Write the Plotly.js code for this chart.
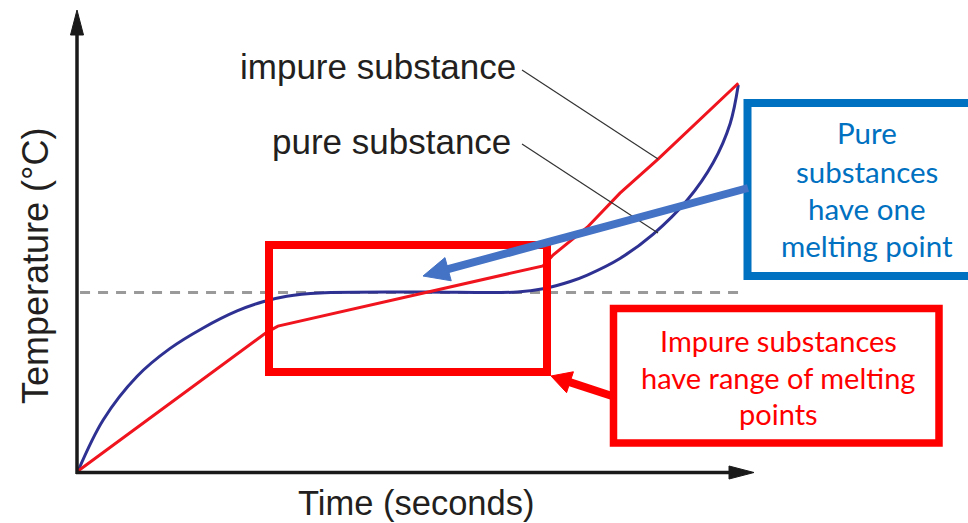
<!DOCTYPE html>
<html><head><meta charset="utf-8">
<script src="https://cdn.plot.ly/plotly-3.0.1.min.js"></script>
<style>html,body{margin:0;padding:0;background:#fff}#chart{width:968px;height:523px}</style>
</head><body><div id="chart"></div>
<script>
// ---- data (time in arbitrary seconds, temperature in arbitrary °C) ----
const pureTime   = [0, 3.7, 8.7, 13.5, 18.4, 23.4, 27.2, 30.7, 35.6, 50.3, 64.6, 68.4, 72.4, 74.9, 79.7, 84.6, 89.6, 93.4, 95.9, 97.1];
const pureTemp   = [0, 11.1, 20.6, 26.6, 31.1, 34.8, 36.8, 38.0, 38.7, 38.9, 38.9, 39.6, 41.2, 42.6, 46.2, 51.5, 58.9, 67.0, 75.5, 83.9];
const impureTime = [0, 27.8, 29.4, 51.3, 68.4, 69.9, 74.9, 79.7, 85.3, 97.1];
const impureTemp = [0, 30.2, 31.5, 38.9, 44.6, 47.0, 53.0, 60.4, 67.8, 84.3];
const meltingPoint = 38.8;
const seriesLabels = ['impure substance', 'pure substance'];
const xTitle = 'Time (seconds)';
const yTitle = 'Temperature (°C)';
const pureNote = ['Pure', 'substances', 'have one', 'melting point'];
const impureNote = ['Impure substances', 'have range of melting', 'points'];

// ---- geometry ----
const W = 968, H = 523;
const X0 = 78, Y0 = 471, SX = 6.8, SY = 4.6;   // origin pixel & pixels per unit
const px = v => v / W, py = v => 1 - v / H;

function arrow(x0, y0, x1, y1, color, w, hl, hw) {
  const dx = x1 - x0, dy = y1 - y0, L = Math.hypot(dx, dy), ux = dx / L, uy = dy / L;
  const bx = x1 - ux * hl, by = y1 - uy * hl, nx = -uy, ny = ux;
  return [
    {type: 'line', xref: 'paper', yref: 'paper', x0: px(x0), y0: py(y0), x1: px(bx + ux * 2), y1: py(by + uy * 2),
     line: {color: color, width: w}},
    {type: 'path', xref: 'paper', yref: 'paper',
     path: `M${px(x1)},${py(y1)} L${px(bx + nx * hw / 2)},${py(by + ny * hw / 2)} L${px(bx - nx * hw / 2)},${py(by - ny * hw / 2)} Z`,
     fillcolor: color, line: {color: color, width: 1}}
  ];
}

const traces = [
  {x: pureTime, y: pureTemp, type: 'scatter', mode: 'lines', name: seriesLabels[1],
   line: {color: '#2e3192', width: 3, shape: 'spline', smoothing: 1}, hoverinfo: 'skip'},
  {x: impureTime, y: impureTemp, type: 'scatter', mode: 'lines', name: seriesLabels[0],
   line: {color: '#f0141e', width: 3, shape: 'linear'}, hoverinfo: 'skip'}
];

const shapes = [
  {type: 'line', xref: 'x', yref: 'y', x0: 0.3, x1: 98.1, y0: meltingPoint, y1: meltingPoint, layer: 'below',
   line: {color: '#9a9a9a', width: 3, dash: '10px,8px'}},
  // leader lines
  {type: 'line', xref: 'paper', yref: 'paper', x0: px(522), y0: py(70), x1: px(658), y1: py(159), line: {color: '#333', width: 1.2}},
  {type: 'line', xref: 'paper', yref: 'paper', x0: px(522), y0: py(144), x1: px(658), y1: py(233), line: {color: '#333', width: 1.2}},
  // red highlight rectangle
  {type: 'rect', xref: 'paper', yref: 'paper', x0: px(269), x1: px(547), y0: py(372), y1: py(245), line: {color: '#ff0000', width: 8}},
  // red note box
  {type: 'rect', xref: 'paper', yref: 'paper', x0: px(613.5), x1: px(939), y0: py(443), y1: py(308.5), line: {color: '#ff0000', width: 7.5}},
  // blue note box
  {type: 'rect', xref: 'paper', yref: 'paper', x0: px(747.5), x1: px(985), y0: py(276), y1: py(103), line: {color: '#0070c0', width: 8}},
  ...arrow(77, 474, 77, 10, '#1a1a1a', 3.5, 25, 13),
  ...arrow(76, 472.5, 754, 472.5, '#1a1a1a', 3.5, 25, 13),
  ...arrow(612, 396, 551, 376, '#ff0000', 8, 20, 22),
  ...arrow(748, 188, 423, 276, '#4472c4', 8, 26, 24)
];

const txt = (t, x, y, size, color, family, xa, extra) => Object.assign({
  text: t, xref: 'paper', yref: 'paper', x: px(x), y: py(y), xanchor: xa || 'center', yanchor: 'middle',
  showarrow: false, font: {size: size, color: color, family: family}}, extra || {});
const arial = 'Liberation Sans, Arial, sans-serif';
const cal = 'Lato, Noto Sans, sans-serif';

const annotations = [
  txt(seriesLabels[0], 518, 67, 35, '#231f20', arial, 'right'),
  txt(seriesLabels[1], 513, 141, 35, '#231f20', arial, 'right'),
  txt(xTitle, 416, 503, 34.5, '#231f20', arial),
  txt(yTitle, 35, 266, 36, '#231f20', arial, 'center', {textangle: -90}),
];
const impY = [340, 377, 413];
impureNote.forEach((t, i) => annotations.push(txt(t, 778, impY[i], 29, '#ff0000', cal)));
const pureY = [133, 171, 208, 245];
pureNote.forEach((t, i) => annotations.push(txt(t, 867, pureY[i], 29.5, '#0070c0', cal)));

const layout = {
  width: W, height: H, margin: {l: 0, r: 0, t: 0, b: 0, pad: 0},
  paper_bgcolor: '#fff', plot_bgcolor: '#fff', showlegend: false,
  xaxis: {range: [-X0 / SX, (W - X0) / SX], visible: false, fixedrange: true},
  yaxis: {range: [-(H - Y0) / SY, Y0 / SY], visible: false, fixedrange: true},
  shapes: shapes, annotations: annotations
};
Plotly.newPlot('chart', traces, layout, {staticPlot: true, displayModeBar: false});
</script></body></html>
